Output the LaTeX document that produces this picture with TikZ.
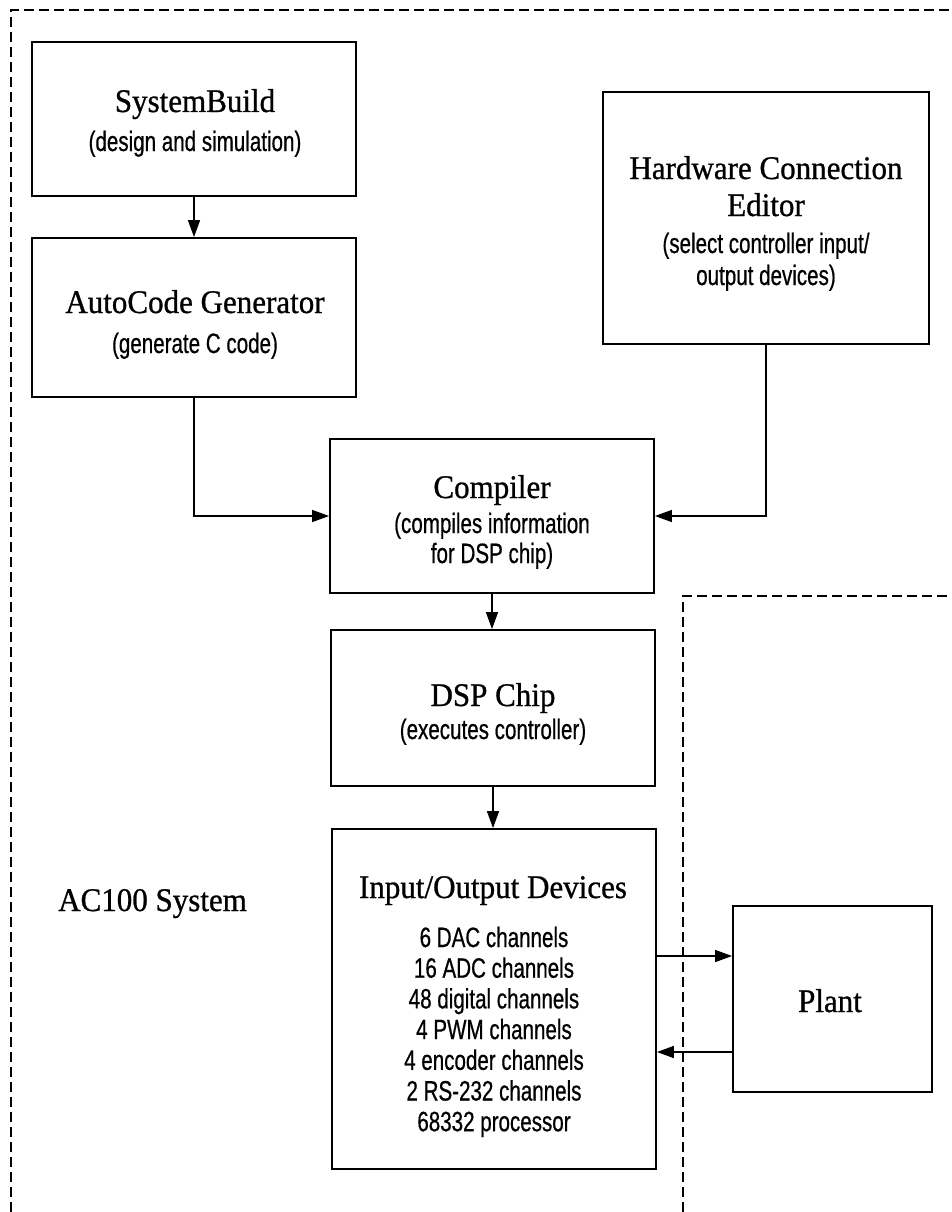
\documentclass[tikz,border=0pt]{standalone}
\usepackage{fontspec}
\usetikzlibrary{arrows.meta}
\newfontfamily\srf[FakeStretch=0.94,FakeBold=0.8]{Liberation Serif}
\newfontfamily\ssf[FakeStretch=0.735,FakeBold=0.6]{Liberation Sans}
\begin{document}
\begin{tikzpicture}[x=1pt,y=-1pt,
  blk/.style={draw=black, line width=1.8pt, rectangle, inner sep=0pt},
  ttl/.style={font=\srf\fontsize{33}{36}\selectfont, anchor=base, inner sep=0pt},
  sub/.style={font=\ssf\fontsize{28}{30}\selectfont, anchor=base, inner sep=0pt},
  arr/.style={draw=black, line width=1.4pt, -{Triangle[length=17pt,width=12pt]}},
  dsh/.style={draw=black, line width=1.6pt, dash pattern=on 10pt off 5pt}]
\useasboundingbox (0,0) rectangle (951,1212);
\fill[white] (0,0) rectangle (951,1212);
% dashed enclosures
\draw[dsh] (11,1212) -- (11,10) -- (951,10);
\draw[dsh] (683,1212) -- (683,596) -- (951,596);
% boxes
\node[blk, minimum width=324pt, minimum height=154pt] (sb) at (194,119) {};
\node[blk, minimum width=324pt, minimum height=159pt] (ac) at (194,317.5) {};
\node[blk, minimum width=326pt, minimum height=252pt] (hw) at (766,218) {};
\node[blk, minimum width=324pt, minimum height=154pt] (comp) at (492,516) {};
\node[blk, minimum width=324pt, minimum height=156pt] (dsp) at (493,708) {};
\node[blk, minimum width=324pt, minimum height=340pt] (io) at (494,999) {};
\node[blk, minimum width=199pt, minimum height=186pt] (pl) at (832.5,999) {};
% texts
\node[ttl] (sbt) at (195,112) {SystemBuild};
\node[sub] (sbs) at (195,151) {(design and simulation)};
\node[ttl] (act) at (195,313) {AutoCode Generator};
\node[sub] (acs) at (195,353) {(generate C code)};
\node[ttl] (hwt1) at (766,179) {Hardware Connection};
\node[ttl] (hwt2) at (766,216) {Editor};
\node[sub] (hws1) at (766,253) {(select controller input/};
\node[sub] (hws2) at (766,285) {output devices)};
\node[ttl] (compt) at (492,498) {Compiler};
\node[sub] (comps1) at (492,533) {(compiles information};
\node[sub] (comps2) at (492,563) {for DSP chip)};
\node[ttl] (dspt) at (493,706) {DSP Chip};
\node[sub] (dsps) at (493,739) {(executes controller)};
\node[ttl] (iot) at (493,898) {Input/Output Devices};
\foreach \t [count=\i] in {6 DAC channels,16 ADC channels,48 digital channels,4 PWM channels,4 encoder channels,2 RS-232 channels,68332 processor}
  \node[sub] (io\i) at (494,{947+30.7*(\i-1)}) {\t};
\node[ttl] (plt) at (830,1012) {Plant};
\node[ttl, anchor=base west] (sys) at (58,911) {AC100 System};
% connectors
\coordinate (ya) at (700,956);
\coordinate (yb) at (700,1052);
\draw[arr] (sb.south) -- (ac.north);
\draw[arr] (ac.south) |- (comp.west);
\draw[arr] (hw.south) |- (comp.east);
\draw[arr] (comp.south) -- (comp.south |- dsp.north);
\draw[arr] (dsp.south) -- (dsp.south |- io.north);
\draw[arr] (io.east |- ya) -- (pl.west |- ya);
\draw[arr] (pl.west |- yb) -- (io.east |- yb);
\end{tikzpicture}
\end{document}
